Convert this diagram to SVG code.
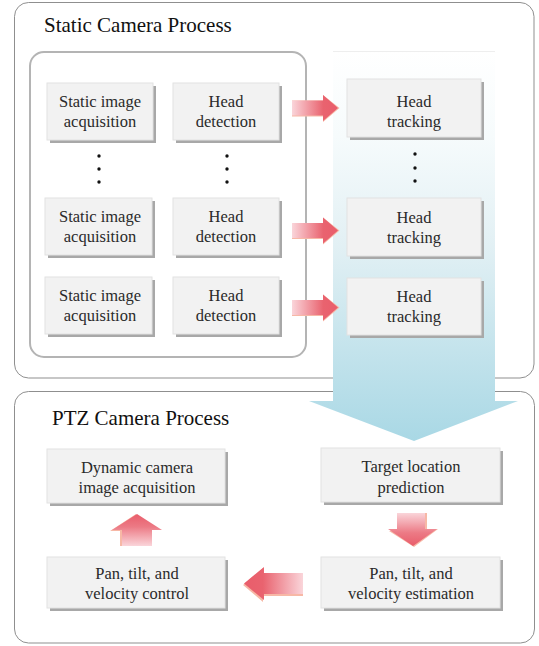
<svg xmlns="http://www.w3.org/2000/svg" width="539" height="646" viewBox="0 0 539 646">
<defs>
<linearGradient id="blue" gradientUnits="userSpaceOnUse" x1="0" y1="51" x2="0" y2="441">
<stop offset="0" stop-color="#ffffff"/>
<stop offset="0.22" stop-color="#f6fbfc"/>
<stop offset="0.5" stop-color="#e2f0f4"/>
<stop offset="1" stop-color="#a9d8e5"/>
</linearGradient>
<linearGradient id="pinkR" x1="0" y1="0" x2="1" y2="0">
<stop offset="0" stop-color="#fad5da"/>
<stop offset="0.68" stop-color="#e9636f"/>
<stop offset="1" stop-color="#e95d6b"/>
</linearGradient>
<linearGradient id="pinkL" x1="1" y1="0" x2="0" y2="0">
<stop offset="0" stop-color="#fad5da"/>
<stop offset="0.68" stop-color="#e9636f"/>
<stop offset="1" stop-color="#e95d6b"/>
</linearGradient>
<linearGradient id="pinkU" x1="0" y1="1" x2="0" y2="0">
<stop offset="0" stop-color="#fad5da"/>
<stop offset="0.6" stop-color="#ec7a85"/>
<stop offset="1" stop-color="#e95d6b"/>
</linearGradient>
<linearGradient id="pinkD" x1="0" y1="0" x2="0" y2="1">
<stop offset="0" stop-color="#fad5da"/>
<stop offset="0.6" stop-color="#ec7a85"/>
<stop offset="1" stop-color="#e95d6b"/>
</linearGradient>
</defs>
<style>
.panel{fill:#ffffff;stroke:#8f8f8f;stroke-width:1}
.inner{fill:none;stroke:#b4b4b4;stroke-width:2}
.title{font-family:"Liberation Serif","Times New Roman",serif;font-size:21px;fill:#111111}
.shadow{fill:#a8a8a8}
.box{fill:#f2f2f2;stroke:#e2e2e2;stroke-width:1}
.lbl{font-family:"Liberation Serif","Times New Roman",serif;font-size:16.5px;fill:#2a2a2a;text-anchor:middle}
.dot{fill:#111111}
.ash{fill:#f7b8a6}
</style>

<g id="static-panel">
<rect class="panel" x="14.5" y="2.5" width="519.5" height="375.5" rx="14"/>
<text class="title" x="44" y="32">Static Camera Process</text>
<rect class="inner" x="30" y="52" width="276" height="305" rx="14"/>
</g>
<g id="ptz-panel">
<rect class="panel" x="14.5" y="391.5" width="520" height="251.5" rx="14"/>
<text class="title" x="52" y="425">PTZ Camera Process</text>
</g>

<g id="connectors">
<g id="flow-to-ptz">
<polygon points="333,51 495,51 495,401 518,401 414,441 309,401 333,401" fill="url(#blue)"/>
<line x1="333" y1="51.5" x2="495" y2="51.5" stroke="#eeeeee" stroke-width="1"/>
</g>
<g id="arrow-r1" transform="translate(292,108)">
<polygon class="ash" points="0,-7.5 31,-7.5 31,-13 47.5,0 31,14 31,8.5 0,8.5"/>
<polygon points="0,-7.5 31,-7.5 31,-13 46,0 31,13 31,7.5 0,7.5" fill="url(#pinkR)"/>
</g>
<g id="arrow-r2" transform="translate(292,230.5)">
<polygon class="ash" points="0,-7.5 31,-7.5 31,-13 47.5,0 31,14 31,8.5 0,8.5"/>
<polygon points="0,-7.5 31,-7.5 31,-13 46,0 31,13 31,7.5 0,7.5" fill="url(#pinkR)"/>
</g>
<g id="arrow-r3" transform="translate(292,307.5)">
<polygon class="ash" points="0,-7.5 31,-7.5 31,-13 47.5,0 31,14 31,8.5 0,8.5"/>
<polygon points="0,-7.5 31,-7.5 31,-13 46,0 31,13 31,7.5 0,7.5" fill="url(#pinkR)"/>
</g>
<g id="arrow-down">
<polygon class="ash" points="397,513 427,513 427,529 438,529 414,547 389,531 397,531"/>
<polygon points="397,513 425,513 425,529 437,529 413,546 388,529 397,529" fill="url(#pinkD)"/>
</g>
<g id="arrow-left">
<polygon class="ash" points="303,574 263,574 263,568 243,585 263,602 263,596 303,596"/>
<polygon points="303,573 264,573 264,567 244,583.5 264,600 264,594 303,594" fill="url(#pinkL)"/>
</g>
<g id="arrow-up">
<polygon class="ash" points="120,546 120,531 110,531 136,514 136,546"/>
<polygon points="122,546 122,530 112,530 137,514 162,530 152,530 152,546" fill="url(#pinkU)"/>
</g>
</g>

<g id="static-acq-1">
<rect class="shadow" x="50" y="86" width="106" height="57"/>
<rect class="box" x="47" y="83" width="106" height="57"/>
<text class="lbl" x="100" y="107">Static image</text>
<text class="lbl" x="100" y="127">acquisition</text>
</g>
<g id="head-det-1">
<rect class="shadow" x="176" y="86" width="106" height="57"/>
<rect class="box" x="173" y="83" width="106" height="57"/>
<text class="lbl" x="226" y="107">Head</text>
<text class="lbl" x="226" y="127">detection</text>
</g>
<g id="head-trk-1">
<rect class="shadow" x="350" y="82" width="134" height="58"/>
<rect class="box" x="347" y="79" width="134" height="58"/>
<text class="lbl" x="414" y="107">Head</text>
<text class="lbl" x="414" y="127">tracking</text>
</g>

<g id="dots">
<circle class="dot" cx="99" cy="156" r="1.7"/>
<circle class="dot" cx="99" cy="169" r="1.7"/>
<circle class="dot" cx="99" cy="182" r="1.7"/>
<circle class="dot" cx="227" cy="156" r="1.7"/>
<circle class="dot" cx="227" cy="169" r="1.7"/>
<circle class="dot" cx="227" cy="182" r="1.7"/>
<circle class="dot" cx="415" cy="154" r="1.7"/>
<circle class="dot" cx="415" cy="168" r="1.7"/>
<circle class="dot" cx="415" cy="181" r="1.7"/>
</g>

<g id="static-acq-2">
<rect class="shadow" x="48" y="201" width="107" height="57"/>
<rect class="box" x="45" y="198" width="107" height="57"/>
<text class="lbl" x="100" y="222">Static image</text>
<text class="lbl" x="100" y="242">acquisition</text>
</g>
<g id="head-det-2">
<rect class="shadow" x="176" y="201" width="106" height="57"/>
<rect class="box" x="173" y="198" width="106" height="57"/>
<text class="lbl" x="226" y="222">Head</text>
<text class="lbl" x="226" y="242">detection</text>
</g>
<g id="head-trk-2">
<rect class="shadow" x="350" y="201" width="134" height="58"/>
<rect class="box" x="347" y="198" width="134" height="58"/>
<text class="lbl" x="414" y="223">Head</text>
<text class="lbl" x="414" y="243">tracking</text>
</g>

<g id="static-acq-3">
<rect class="shadow" x="48" y="280" width="107" height="57"/>
<rect class="box" x="45" y="277" width="107" height="57"/>
<text class="lbl" x="100" y="301">Static image</text>
<text class="lbl" x="100" y="321">acquisition</text>
</g>
<g id="head-det-3">
<rect class="shadow" x="176" y="280" width="106" height="57"/>
<rect class="box" x="173" y="277" width="106" height="57"/>
<text class="lbl" x="226" y="301">Head</text>
<text class="lbl" x="226" y="321">detection</text>
</g>
<g id="head-trk-3">
<rect class="shadow" x="350" y="281" width="134" height="57"/>
<rect class="box" x="347" y="278" width="134" height="57"/>
<text class="lbl" x="414" y="302">Head</text>
<text class="lbl" x="414" y="322">tracking</text>
</g>

<g id="dynamic-acq">
<rect class="shadow" x="50" y="452" width="178" height="54"/>
<rect class="box" x="47" y="449" width="178" height="54"/>
<text class="lbl" x="137" y="473">Dynamic camera</text>
<text class="lbl" x="137" y="493">image acquisition</text>
</g>
<g id="target-pred">
<rect class="shadow" x="324" y="451" width="179" height="54"/>
<rect class="box" x="321" y="448" width="179" height="54"/>
<text class="lbl" x="411" y="472">Target location</text>
<text class="lbl" x="411" y="493">prediction</text>
</g>
<g id="ptv-control">
<rect class="shadow" x="50" y="560" width="178" height="51"/>
<rect class="box" x="47" y="557" width="178" height="51"/>
<text class="lbl" x="137" y="579">Pan, tilt, and</text>
<text class="lbl" x="137" y="599">velocity control</text>
</g>
<g id="ptv-estimation">
<rect class="shadow" x="324" y="560" width="179" height="51"/>
<rect class="box" x="321" y="557" width="179" height="51"/>
<text class="lbl" x="411" y="579">Pan, tilt, and</text>
<text class="lbl" x="411" y="599">velocity estimation</text>
</g>
</svg>
